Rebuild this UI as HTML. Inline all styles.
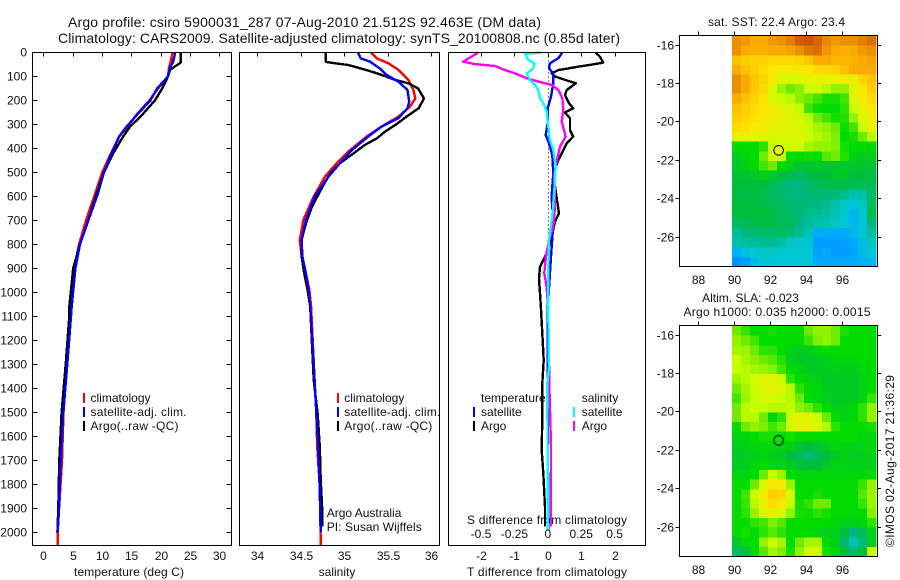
<!DOCTYPE html>
<html>
<head>
<meta charset="utf-8">
<title>Argo profile csiro 5900031_287</title>
<style>
html,body{margin:0;padding:0;background:#fff;}
svg{display:block;font-family:"Liberation Sans",sans-serif;font-size:12px;fill:#000;}
text{fill:#111;}
</style>
</head>
<body>
<svg id="chart" width="900" height="580" viewBox="0 0 900 580" xmlns="http://www.w3.org/2000/svg">
<rect width="900" height="580" fill="#fff"/>
<text x="304.5" y="27" text-anchor="middle" font-size="14" textLength="473">Argo profile: csiro 5900031_287 07-Aug-2010 21.512S 92.463E (DM data)</text>
<text x="339" y="43" text-anchor="middle" font-size="14" textLength="562">Climatology: CARS2009. Satellite-adjusted climatology: synTS_20100808.nc (0.85d later)</text>

<text x="129" y="576" text-anchor="middle" textLength="110">temperature (deg C)</text>
<text x="337" y="576" text-anchor="middle">salinity</text>
<text x="547" y="576" text-anchor="middle" textLength="160">T difference from climatology</text>
<text x="547" y="524" text-anchor="middle" textLength="160">S difference from climatology</text>

<g>
<text x="90.5" y="402">climatology</text>
<text x="90.5" y="416" textLength="96">satellite-adj. clim.</text>
<text x="90.5" y="430" textLength="88">Argo(..raw -QC)</text>
<rect x="83" y="393" width="2" height="10" fill="#f00"/>
<rect x="83" y="407" width="2" height="10" fill="#00f"/>
<rect x="83" y="421" width="2" height="10" fill="#000"/>
</g>
<g>
<text x="344.3" y="402">climatology</text>
<text x="344.3" y="416" textLength="96">satellite-adj. clim.</text>
<text x="344.3" y="430" textLength="88">Argo(..raw -QC)</text>
<rect x="337" y="393" width="2" height="10" fill="#f00"/>
<rect x="337" y="407" width="2" height="10" fill="#00f"/>
<rect x="337" y="421" width="2" height="10" fill="#000"/>
<text x="326.7" y="517">Argo Australia</text>
<text x="326.7" y="531" textLength="95">PI: Susan Wijffels</text>
</g>
<g>
<text x="481" y="402">temperature</text>
<text x="481" y="416">satellite</text>
<text x="481" y="430">Argo</text>
<text x="581.7" y="402">salinity</text>
<text x="581.7" y="416">satellite</text>
<text x="581.7" y="430">Argo</text>
<rect x="473" y="407" width="2" height="10" fill="#00f"/>
<rect x="473" y="421" width="2" height="10" fill="#000"/>
<rect x="573" y="407" width="2" height="10" fill="#0ff"/>
<rect x="573" y="421" width="2" height="10" fill="#f0f"/>
</g>

<text x="776.5" y="26" text-anchor="middle" textLength="137">sat. SST: 22.4  Argo: 23.4</text>
<text x="750.5" y="302" text-anchor="middle">Altim. SLA: -0.023</text>
<text x="777" y="316" text-anchor="middle" textLength="187">Argo h1000: 0.035 h2000: 0.0015</text>
<text transform="translate(894,547) rotate(-90)" textLength="172">©IMOS 02-Aug-2017 21:36:29</text>
</svg>
<script>
// Depth axis
const depthTicks = [0,100,200,300,400,500,600,700,800,900,1000,1100,1200,1300,1400,1500,1600,1700,1800,1900,2000];
const tempTicks = [0,5,10,15,20,25,30];
const salTicks = [34,34.5,35,35.5,36];
const salTickLabels = ['34','34.5','35','35.5','36'];
const tDiffTicks = [-2,-1,0,1,2];
const sDiffTicks = [-0.5,-0.25,0,0.25,0.5];
const sDiffTickLabels = ['-0.5','-0.25','0','0.25','0.5'];
const lonTicks = [88,90,92,94,96];
const latTicks = [-16,-18,-20,-22,-24,-26];

// Temperature profiles
const tempDepths = [0,20,43,60,74,100,150,200,260,310,350,420,500,590,700,800,900,1060,1100,1300,1500,1700,1900,2000,2053];
const tempClim = [22.08,21.9,21.7,21.5,21.4,21.3,19.6,18.1,15.9,14.4,12.97,11.55,10.07,8.82,7.3,6.1,5.3,4.7,4.7,4.05,3.45,3.19,2.7,2.45,2.45];
const tempSat = [22.47,22.36,22.1,21.7,21.5,21.3,19.46,18.3,16,14.2,12.97,11.67,10.36,9.3,7.7,6.26,5.47,4.84,4.73,4.1,3.42,2.96,2.68,2.45,null];
const tempArgo = [23.44,23.44,23.44,22.4,21.6,21.3,20.3,19.06,16.9,14.8,13.66,11.95,10.36,9.1,7.7,6.26,5.1,4.44,4.44,3.82,3.13,2.73,2.56,2.4,null];

// Salinity profiles
const salClimDepths = [1,25,46,74,115,157,192,226,268,310,351,407,456,518,601,699,782,851,921,990,1060,1365,1504,1643,1782,1921,2053];
const salClim = [35.31,35.375,35.51,35.63,35.74,35.8,35.82,35.76,35.625,35.43,35.26,35.07,34.93,34.78,34.65,34.53,34.49,34.51,34.56,34.6,34.62,34.66,34.68,34.69,34.715,34.726,34.73];
const salSatDepths = [1,25,39,67,94,122,157,206,233,275,310,351,407,463,518,601,699,782,851,921,990,1060,1365,1504,1643,1782,1921,2001];
const salSat = [35.16,35.19,35.3,35.41,35.49,35.625,35.73,35.75,35.73,35.625,35.43,35.28,35.09,34.95,34.82,34.66,34.56,34.51,34.52,34.56,34.59,34.61,34.66,34.68,34.7,34.715,34.726,34.73];
const salArgoDepths = [1,40,46,53,67,81,94,115,129,150,192,233,268,303,331,358,386,421,463,504,574,643,713,782,851,921,990,1060,1365,1504,1643,1782,1921,1976];
const salArgo = [34.79,34.79,34.895,35.05,35.19,35.32,35.43,35.59,35.74,35.85,35.92,35.86,35.72,35.59,35.47,35.38,35.24,35.11,34.95,34.84,34.73,34.63,34.56,34.51,34.51,34.54,34.58,34.61,34.65,34.695,34.72,34.73,34.75,34.75];

// Difference profiles
const tDiffArgoDepths = [1,18,43,49,60,74,88,101,115,129,157,178,212,233,251,275,324,351,379,421,456,504,588,671,706,768,838,893,942,1004,1071,1171,1282,1380,1518,1657,1754,1893,1976];
const tDiffArgo = [1.43,1.56,1.66,1.41,0.91,0.315,0.115,0.215,0.515,0.84,0.565,0.515,0.635,0.76,0.515,0.665,0.665,0.76,0.565,0.415,0.295,0.165,0.245,0.335,0.215,0.115,-0.034,-0.234,-0.264,-0.234,-0.204,-0.164,-0.124,-0.164,-0.164,-0.184,-0.134,-0.084,-0.084];
const tDiffSatDepths = [1,25,46,67,88,129,185,233,296,344,379,428,504,601,713,851,1071,1500,1990];
const tDiffSat = [0.435,0.315,0.066,0.036,0.165,0.165,0.095,-0.004,-0.004,-0.064,0.036,0.136,0.165,0.115,0.165,0.095,-0.004,0,0.015];
const sDiffArgoDepths = [1,18,39,49,57,74,88,108,122,136,157,192,240,289,351,393,435,504,643,726,782,851,921,976,1071,1380,1643,1976];
const sDiffArgo = [-0.52,-0.57,-0.633,-0.545,-0.395,-0.32,-0.245,-0.158,-0.07,0.029,0.079,0.109,0.116,0.104,0.134,0.091,0.074,0.049,0.054,0.041,0.009,-0.014,-0.026,-0.009,0.004,0.011,0.024,0.024];
const sDiffSatDepths = [1,7,32,46,67,88,115,136,157,192,212,247,310,365,407,476,574,671,782,921,1071,1310,1380,1976,1990];
const sDiffSat = [-0.046,-0.171,-0.146,-0.101,-0.108,-0.158,-0.133,-0.096,-0.071,-0.058,-0.033,-0.008,0.004,0.016,0.041,0.059,0.049,0.036,0.009,0.004,0.004,0.009,-0.004,0.001,0.001];

// Map data: colour-scale index per 0.5 degree cell, north to south
const sstRows = [
[9.3,9.2,9,9,9.2,9.3,9.5,9.9,10,9.8,9.4,9.2,9.3,9.3,9.5,9.7],
[9.3,9,8.9,8.9,9,9,9.1,9.3,9.6,9.7,9.2,9,8.9,9,9.2,9.3],
[8.6,8.4,8.3,8.3,8.2,8.2,8.2,8.3,8.5,9,9,8.8,8.8,8.9,9,9.1],
[9,8.6,8.4,8.2,8,7.8,7.7,7.8,8,8.2,8.2,8.3,8.6,9,9,9],
[9.3,9,8.5,8.3,7.8,7.4,7.2,7.4,7.5,7.6,7.5,7.6,7.7,7.6,8.3,8.6],
[9.3,9,8.5,8.2,7.4,6.5,6,6.3,7,7.2,6.8,6.4,6.4,7.4,8,8.4],
[9,8.6,8.3,8.1,7.4,7,6.8,6.3,6,5.6,5.2,5.2,5.6,7.4,7.8,8.2],
[8.6,8.4,8.2,8,7.7,7.4,7.2,6.9,5.6,5.1,5,5,5.4,7,7.6,8],
[8.4,8.3,8.1,7.8,7.7,7.6,7.4,7.2,6.8,6,5.6,5.2,5.3,6.4,7.4,7.8],
[8.2,8.1,7.9,7.8,7.6,7.5,7.4,7.3,7,6.6,6.4,6,5.1,5.6,7,7.6],
[7.6,7.5,7.6,7.4,7.3,7.3,7.3,7.4,7,6.8,6.6,6.2,5,5.2,6,6.8],
[5,5,5,5.4,7,7.1,7.2,7.2,6.6,6.4,6.4,6.2,5.2,5,5,5],
[4.5,4.8,5,6,7,7,5,5,5.1,5,5.8,6,5.3,4.6,4.5,4.5],
[4.4,4.6,5,5.6,6,5,4.6,4.2,4.2,4.4,4.3,4.3,4.3,4.2,4.2,4.2],
[4.1,4.2,4.4,4.6,4.4,4,3.8,3.5,3.8,4,4,4.3,4.3,4.1,4,3.9],
[4,4,4,4,3.7,3.3,3,3,3.4,3.6,3.7,3.8,3.8,3.7,3.7,3.7],
[3.9,3.9,3.9,3.7,3.5,3.3,3,3,3.2,3.2,3.2,3.1,2.9,2.5,2.6,3.4],
[4,4,4,3.8,3.6,3.5,3.2,3.2,3.1,3,2.9,2.5,2.2,1.8,2.2,3.5],
[4,4,4,4,3.8,3.6,3.4,3.1,2.9,2.8,2.6,2.4,2.1,1.4,2,3.8],
[3.4,3.6,3.8,3.9,3.9,3.6,3.6,3,2.7,2.5,2.4,2.2,2,1.4,1.9,3],
[2.8,3,3.3,3.4,3.4,3.5,3.2,2.8,2.4,1,1,1,1,1.4,1.9,2.6],
[2.5,2.6,2.7,2.8,2.8,2.6,2.2,2.1,1.8,0.6,0.6,0.6,0.7,1,1.6,2.2],
[1.2,1.8,2,2.2,2.2,2.1,2,2,2,0.8,0.9,0.5,0.5,0.7,1.6,2],
[0.3,0.7,1.6,2,2,2,2,2,2,1,1,1,1,1,1.2,1.6]
];
const slaRows = [
[6,5.5,5,5,5.2,5,5,5,6,6.4,6.4,6,5.2,5,5,5],
[6.4,6,5.6,5,5,5,5,5,5.5,6.2,6.4,6,5,5,5,5],
[6.6,6.5,6,5.4,5.4,5,4.6,4.5,4.5,4.8,5,5,5,5,5,5],
[7,6.6,6.3,6,5.8,5.3,4.6,4.4,4.4,4.4,4.6,4.8,4.8,4.8,5,5],
[7,6.8,6.6,6.5,6.3,5.6,5,4.7,4.4,4.4,4.5,4.6,4.5,4.5,4.8,5],
[6.5,6.8,7.2,7.4,7.4,7,5.4,5,4.7,4.6,4.4,4.4,4.4,4.4,4.6,5],
[6,6.6,7,7.4,7.6,7.3,6.8,5.4,5,4.8,4.5,4.4,4.4,4.4,4.6,5],
[5.6,6.5,7,7.2,7.2,7,6.8,6,5,4.8,4.6,4.4,4.4,4.5,4.8,5.5],
[6,6.8,7,6.9,6.8,6.8,6.9,6.4,6,5.4,5,4.6,4.6,4.8,5.4,6.4],
[6,6.8,6.8,6,4.8,5.4,7.2,7.6,7.4,7,6,5,4.6,4.8,5.4,6.4],
[5,6,6.4,6.2,5.6,6,7.2,7.6,7.5,7.2,6.8,5.4,5,5,5,5.2],
[4.8,4.8,5,5.2,5.2,5,5.2,5,5,5,5,5,5,5,4.8,4.8],
[4.5,4.6,4.8,4.8,4.8,4.6,4.6,4.2,4,4.2,4.4,4.8,4.7,4.6,4.7,4.8],
[4.4,4.5,4.6,4.8,4.6,4.4,4,3.6,3.2,3.6,4,4.4,4.6,4.5,4.5,4.7],
[4.5,4.5,4.8,5,4.8,4.8,4.5,4.2,4,4,4.4,4.7,4.7,4.6,4.6,4.6],
[4.8,4.8,5,6,7,6.5,5,4.8,4.8,4.8,4.8,4.8,4.8,4.8,4.8,5],
[5,5,6,7.4,7.8,7.8,6.5,5,5,5,5,5,5,5,5.5,6.4],
[5,5.6,7,7.8,8.4,8.3,7.2,5,5,5.2,5,5,5,5,5.8,6.5],
[5,5.5,6.8,7.6,8.2,8,7,5.2,5.4,6,6,5,5,5,5.5,6.5],
[5,5.4,6.4,7.2,7.4,7.2,6.4,5.2,5.1,5.4,5.2,5,5,5,5,6.2],
[5,5,5.4,5.6,6.2,5.8,5,5,5,5,5,4.8,4.6,4.6,4.8,5.4],
[5,5.2,5,5.4,5.8,5.4,5,5,5,4.8,4.6,4.6,4,3,3.6,4.6],
[4.4,5,5,6.4,7,6.6,5,6,6.6,6.6,5,4.6,3.2,2.4,3,4.5],
[3.4,3.8,5,5.8,6.6,6.2,5.2,6.4,7.2,7,5.2,4.8,4,3.2,4,7]
];
const floatLon = 92.463;
const floatLat = -21.512;
const sstFloatValue = 7.7;
const slaFloatValue = 5;

const svg = document.getElementById('chart');
const NS = 'http://www.w3.org/2000/svg';
function mk(tag, attrs, parent) {
  const el = document.createElementNS(NS, tag);
  for (const k in attrs) el.setAttribute(k, attrs[k]);
  (parent || svg).appendChild(el);
  return el;
}
function label(x, y, str, anchor, parent) {
  const el = mk('text', {x: x, y: y, 'text-anchor': anchor}, parent);
  el.textContent = str;
  return el;
}

const depthY = d => 52.3 + d * 0.24;
const tempX = v => 43.3 + v * 5.86;
const salX = v => 257.3 + (v - 34) * 86.8;
const tDiffX = v => 547.8 + v * 33.4;
const sDiffX = v => 547.8 + v * 133.6;
const lonX = v => 734.3 + (v - 90) * 18;
const latY1 = v => 121.3 + (-20 - v) * 19.2;
const latY2 = v => 411.3 + (-20 - v) * 19.2;

function profile(parent, depths, values, xFn, color, name) {
  const pts = [];
  for (let i = 0; i < depths.length; i++) {
    if (values[i] === null) continue;
    pts.push(xFn(values[i]).toFixed(1) + ',' + depthY(depths[i]).toFixed(1));
  }
  const line = mk('polyline', {points: pts.join(' '), fill: 'none', stroke: color, 'stroke-width': 2.4, 'stroke-linejoin': 'round', 'shape-rendering': 'crispEdges'}, parent);
  
  
}
function frame(x0, y0, x1, y1, name) {
  const r = mk('rect', {x: x0, y: y0, width: x1 - x0, height: y1 - y0, fill: 'none', stroke: '#000', 'stroke-width': 1, 'shape-rendering': 'crispEdges'});
  
  
}
function tick(parent, x1, y1, x2, y2, name) {
  const t = mk('line', {x1: x1, y1: y1, x2: x2, y2: y2, stroke: '#000', 'stroke-width': 1, 'shape-rendering': 'crispEdges'}, parent);
  
  
}
function tickText(parent, x, y, str, anchor, name) {
  const t = label(x, y, str, anchor, parent);
  
  
}
function group(name) {
  const g = mk('g', {});
  
  
  return g;
}

const P1 = [32.5, 231.5], P2 = [239.5, 439.5], P3 = [448.5, 645.5];
const TOP = 52.5, BOT = 545.5;

// Temperature panel
const g1 = group('temperature-panel');
profile(g1, tempDepths, tempClim, tempX, '#f00', 'climatology-temperature-line');
profile(g1, tempDepths, tempArgo, tempX, '#000', 'argo-temperature-line');
profile(g1, tempDepths, tempSat, tempX, '#00f', 'satellite-temperature-line');
depthTicks.forEach(d => {
  const y = Math.round(depthY(d)) + 0.5;
  tick(g1, P1[0], y, P1[0] + 5, y, 'depth-tick-left');
  tick(g1, P1[1] - 5, y, P1[1], y, 'depth-tick-right');
  tickText(g1, 27, y + 4, String(d), 'end', 'depth-tick-label');
});
tempTicks.forEach(v => {
  const x = Math.round(tempX(v)) + 0.5;
  tick(g1, x, TOP, x, TOP + 4, 'temperature-tick');
  tickText(g1, x, 560, String(v), 'middle', 'temperature-tick-label');
});
frame(P1[0], TOP, P1[1], BOT, 'temperature-panel-frame');

// Salinity panel
const g2 = group('salinity-panel');
profile(g2, salClimDepths, salClim, salX, '#f00', 'climatology-salinity-line');
profile(g2, salArgoDepths, salArgo, salX, '#000', 'argo-salinity-line');
profile(g2, salSatDepths, salSat, salX, '#00f', 'satellite-salinity-line');
salTicks.forEach((v, i) => {
  const x = Math.round(salX(v)) + 0.5;
  tick(g2, x, TOP, x, TOP + 4, 'salinity-tick');
  tickText(g2, x, 560, salTickLabels[i], 'middle', 'salinity-tick-label');
});
frame(P2[0], TOP, P2[1], BOT, 'salinity-panel-frame');

// Difference panel
const g3 = group('difference-panel');
const zero = mk('line', {x1: 548.5, y1: depthY(0), x2: 548.5, y2: depthY(2000), stroke: '#000', 'stroke-width': 1, 'stroke-dasharray': '1 3', 'shape-rendering': 'crispEdges'}, g3);


profile(g3, tDiffArgoDepths, tDiffArgo, tDiffX, '#000', 'argo-temperature-difference-line');
profile(g3, tDiffSatDepths, tDiffSat, tDiffX, '#00f', 'satellite-temperature-difference-line');
profile(g3, sDiffArgoDepths, sDiffArgo, sDiffX, '#f0f', 'argo-salinity-difference-line');
profile(g3, sDiffSatDepths, sDiffSat, sDiffX, '#0ff', 'satellite-salinity-difference-line');
tDiffTicks.forEach(v => {
  const x = Math.round(tDiffX(v)) + 0.5;
  tick(g3, x, TOP, x, TOP + 4, 'difference-tick');
  tickText(g3, x, 560, String(v), 'middle', 't-difference-tick-label');
});
sDiffTicks.forEach((v, i) => {
  tickText(g3, sDiffX(v), 538, sDiffTickLabels[i], 'middle', 's-difference-tick-label');
});
frame(P3[0], TOP, P3[1], BOT, 'difference-panel-frame');

// Maps
const paletteStops = [[0,140,255],[0,170,255],[0,200,210],[0,185,130],[0,190,60],[0,220,0],[110,235,0],[200,255,0],[255,230,0],[250,170,0],[205,85,0]];
function cellColor(v) {
  const c = Math.max(0, Math.min(10, v));
  const i = Math.min(9, Math.floor(c));
  const f = c - i;
  const a = paletteStops[i], b = paletteStops[i + 1];
  return 'rgb(' + a.map((q, k) => Math.round(q + (b[k] - q) * f)).join(',') + ')';
}
function drawMap(rows, yFn, frameTop, frameBot, cellName, labelBase, frameName, floatValue, groupName, markerName) {
  const g = group(groupName);
  const lonStart = 89.875, latStart = -15.56, step = 0.5;
  rows.forEach((row, r) => {
    row.forEach((v, c) => {
      const x0 = lonX(lonStart + c * step), x1 = lonX(lonStart + (c + 1) * step);
      const y0 = yFn(latStart - r * step), y1 = yFn(latStart - (r + 1) * step);
      const cell = mk('rect', {x: x0.toFixed(2), y: y0.toFixed(2), width: (x1 - x0 + 0.3).toFixed(2), height: (y1 - y0 + 0.3).toFixed(2), fill: cellColor(v), 'shape-rendering': 'crispEdges'}, g);
      
      
    });
  });
  lonTicks.forEach(v => {
    const x = Math.round(lonX(v)) + 0.5;
    tick(g, x, frameTop - 4, x, frameTop, 'longitude-tick');
    tickText(g, x, labelBase, String(v), 'middle', 'longitude-tick-label');
  });
  latTicks.forEach(v => {
    const y = Math.round(yFn(v)) + 0.5;
    tick(g, 675.5, y, 679.5, y, 'latitude-tick-left');
    tick(g, 877.5, y, 881, y, 'latitude-tick-right');
    tickText(g, 674, y + 4, String(v), 'end', 'latitude-tick-label');
  });
  const m = mk('circle', {cx: lonX(floatLon), cy: yFn(floatLat), r: 4.8, fill: cellColor(floatValue), stroke: '#000', 'stroke-width': 1}, g);
  
  
  frame(679.5, frameTop, 877.5, frameBot, frameName);
}
drawMap(sstRows, latY1, 35.5, 266.5, 'sst-cell', 284, 'sst-map-frame', sstFloatValue, 'sst-map', 'sst-float-marker');
drawMap(slaRows, latY2, 325.5, 556.5, 'sla-cell', 574, 'sla-map-frame', slaFloatValue, 'sla-map', 'sla-float-marker');
</script>
</body>
</html>
